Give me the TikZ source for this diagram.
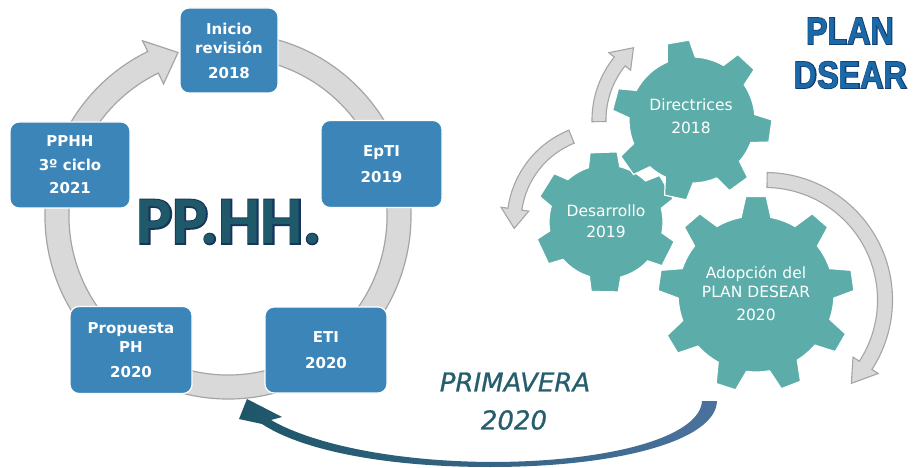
\documentclass[tikz,border=0pt]{standalone}
\usepackage{graphicx}
\usepackage{fontspec}
\setmainfont{DejaVu Sans}
\newfontfamily\carlito{Carlito}
\newfontfamily\carlitoheavy[FakeBold=4]{Carlito}
\newfontfamily\libsans{Liberation Sans}
\newfontfamily\libsansheavy[FakeBold=4]{Liberation Sans}
\newfontfamily\dejaslight[FakeBold=0.8]{DejaVu Sans}
\usetikzlibrary{calc}
\definecolor{boxblue}{RGB}{59,133,184}
\definecolor{gearteal}{RGB}{92,173,170}
\definecolor{ringfill}{RGB}{217,217,217}
\definecolor{ringdraw}{RGB}{165,165,165}
\definecolor{phfill}{RGB}{32,90,106}
\definecolor{phline}{RGB}{22,52,92}
\definecolor{planfill}{RGB}{26,106,170}
\definecolor{planline}{RGB}{20,62,112}
\definecolor{primc}{RGB}{38,94,110}
\definecolor{swA}{RGB}{30,86,104}
\definecolor{swB}{RGB}{74,114,158}
% curved arrow along a circle: cx, cy, R, start, tip, half width, head half width, head base angle, style
\newcommand\arcarrow[9]{%
 \path[#9] ($(#1,#2)+({#4}:{#3+#6})$) arc[start angle={#4}, end angle={#8}, radius={#3+#6}]
  -- ($(#1,#2)+({#8}:{#3+#7})$) -- ($(#1,#2)+({#5}:{#3})$) -- ($(#1,#2)+({#8}:{#3-#7})$)
  -- ($(#1,#2)+({#8}:{#3-#6})$) arc[start angle={#8}, end angle={#4}, radius={#3-#6}] -- cycle;}
% gear: cx, cy, r, R, base half angle, tip half angle, first tooth angle, remaining angles (ending with first+360)
\newcommand\gearshape[8]{%
 \path[gearsty, shift={(#1,#2)}] ({#7+#5}:#3)
  \foreach \a [remember=\a as \p (initially #7)] in {#8}{
    arc[start angle={\p+#5}, end angle={\a-#5}, radius=#3]
    -- ({\a-#6}:#4) -- ({\a+#6}:#4) -- ({\a+#5}:#3)} -- cycle;}
\tikzset{
  ringarrow/.style={fill=ringfill, draw=ringdraw, line width=1.2pt},
  grayarrow/.style={fill=ringfill, draw=ringdraw, line width=1.1pt},
  gearsty/.style={fill=gearteal, draw=white, line width=1.2pt},
  pbox/.style={rounded corners=9pt, fill=boxblue, draw=white, line width=1.2pt,
    text=white, font=\bfseries\fontsize{15}{19}\selectfont, align=center, inner sep=0pt},
  geartext/.style={text=white, align=center, inner sep=0pt}
}
\begin{document}
\begin{tikzpicture}[x=1pt,y=1pt]
\useasboundingbox (0,0) rectangle (914,-468);
\fill[white] (0,0) rectangle (914,-468);
% ---------- left cycle ----------
\arcarrow{228}{-216}{171}{80}{-253}{12}{24}{-244}{ringarrow}
\node[pbox, minimum width=98, minimum height=85] (ini) at (229,-50.5) {Inicio\\revisión\\[6pt]2018};
\node[pbox, minimum width=121, minimum height=87] (epti) at (381.5,-164) {EpTI\\[7pt]2019};
\node[pbox, minimum width=120, minimum height=86] (pphh) at (70,-165) {PPHH\\[5pt]3º ciclo\\[4pt]2021};
\node[pbox, minimum width=122, minimum height=87] (prop) at (131,-350) {Propuesta\\PH\\[6pt]2020};
\node[pbox, minimum width=122, minimum height=86] (eti) at (326,-350) {ETI\\[7pt]2020};
\node[font=\carlitoheavy\bfseries\fontsize{67}{70}\selectfont, text=phline, inner sep=0] (pphhline) at (229,-222) {PP.HH.};
\node[font=\carlito\bfseries\fontsize{67}{70}\selectfont, text=phfill, inner sep=0] (pphhtitle) at (229,-222) {PP.HH.};
% ---------- gears ----------
\gearshape{606}{-222}{57}{71}{16}{11}{-155}{-91,-27,30,92,148,205}
\gearshape{692}{-120}{63}{80}{13}{8}{-145}{-102,-54,-8,47,100,165,215}
\gearshape{756}{-294}{78}{98}{11}{6}{-149}{-108,-69,-30,8,49,90,131,172,211}
\node[geartext, font=\fontsize{15.5}{23.5}\selectfont] (dir) at (691,-116) {Directrices\\2018};
\node[geartext, font=\fontsize{15.5}{21}\selectfont] (des) at (606,-221.5) {Desarrollo\\2019};
\node[geartext, font=\fontsize{15.5}{19}\selectfont] (ado) at (756,-293) {Adopción del\\PLAN DESEAR\\[4pt]2020};
\arcarrow{692}{-120}{93}{181}{129}{7}{14}{141}{grayarrow}
\arcarrow{606}{-222}{92}{112}{184}{7}{14}{172}{grayarrow}
\arcarrow{765}{-300}{120}{89}{-44}{7.5}{15}{-33}{grayarrow}
% ---------- title ----------
\node[font=\libsansheavy\bfseries\fontsize{38}{40}\selectfont, text=planline, inner sep=0] (planl) at (850,-31) {\scalebox{0.85}[1]{PLAN}};
\node[font=\libsans\bfseries\fontsize{38}{40}\selectfont, text=planfill, inner sep=0] (plan) at (850,-31) {\scalebox{0.85}[1]{PLAN}};
\node[font=\libsansheavy\bfseries\fontsize{38}{40}\selectfont, text=planline, inner sep=0] (dsearl) at (850.5,-75) {\scalebox{0.85}[1]{DSEAR}};
\node[font=\libsans\bfseries\fontsize{38}{40}\selectfont, text=planfill, inner sep=0] (dsear) at (850.5,-75) {\scalebox{0.85}[1]{DSEAR}};
% ---------- swoosh ----------
\shade[left color=swA, right color=swB] (702,-401) -- (717,-401)
 .. controls (716,-440) and (620,-467) .. (490,-467)
 .. controls (380,-467) and (300,-449) .. (262,-424)
 -- (239,-419) -- (247,-399) -- (282,-417) -- (271,-420)
 .. controls (305,-440) and (380,-461) .. (490,-462)
 .. controls (610,-462) and (700,-437) .. (702,-401) -- cycle;
\node[font=\dejaslight\itshape\fontsize{26}{28}\selectfont, text=primc, inner sep=0] (prim) at (515,-382) {PRIMAVERA};
\node[font=\dejaslight\itshape\fontsize{26}{28}\selectfont, text=primc, inner sep=0] (primy) at (514,-420) {2020};
\end{tikzpicture}
\end{document}
